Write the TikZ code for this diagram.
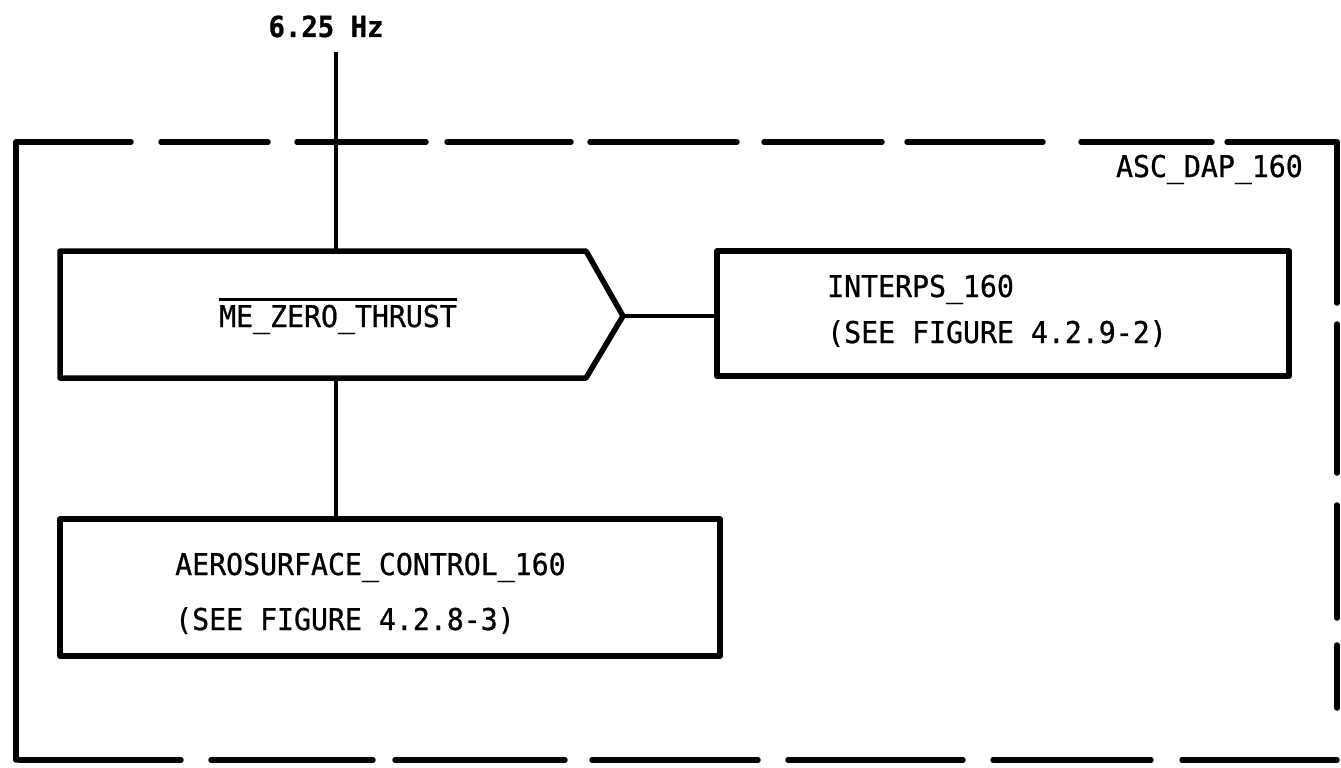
\documentclass[tikz,border=0pt]{standalone}
\usepackage{fontspec}
\newfontfamily\plotfont{DejaVu Sans Mono}[FakeStretch=0.94,FakeBold=0.8]
\newcommand\myovl[1]{\leavevmode\vbox{\hrule height 3pt\kern 3.5pt\hbox{#1}}}
\begin{document}
\begin{tikzpicture}[x=1pt,y=-1pt,
  box/.style={draw,line width=5.5pt,line join=round,inner sep=0pt},
  conn/.style={draw,line width=3.8pt},
  border/.style={line width=5.5pt,line cap=round,line join=round},
  lbl/.style={font=\plotfont\fontsize{30}{36}\selectfont,inner sep=0pt},
  hzlbl/.style={font=\plotfont\bfseries\fontsize{29}{36}\selectfont,inner sep=0pt},
]
\useasboundingbox (0,0) rectangle (1341,768);

% dashed frame of ASC_DAP_160
\draw[border] (16,760) -- (16,142) -- (131,142);
\draw[border,dash pattern=on 107pt off 29pt on 129pt off 21pt on 124pt off 19pt on 147pt off 27pt on 118pt off 25pt on 136pt off 38pt on 131pt off 17pt]
  (161,142) -- (1221,142);
\draw[border] (1227,142) -- (1337,142) -- (1337,303);
\draw[border,dash pattern=on 149pt off 32pt on 113pt off 27pt on 63pt off 100pt]
  (1337,324) -- (1337,760);
\draw[border,dash pattern=on 162pt off 30pt on 162pt off 22pt on 170pt off 27pt on 166pt off 30pt on 175pt off 30pt on 158pt off 31pt on 155pt off 5pt]
  (19,760) -- (1339,760);
\node[lbl,anchor=base east] (asc) at (1303,177) {ASC\_DAP\_160};

% frequency input
\node[hzlbl,anchor=base] (hz) at (326,37) {6.25 Hz};
\coordinate (hztop) at (336,52);

% ME_ZERO_THRUST decision shape
\coordinate (hexN) at (336,251);
\coordinate (hexS) at (336,378);
\coordinate (hexTip) at (623,316);
\draw[box] (60,251) -- (586,251) -- (hexTip) -- (586,378) -- (60,378) -- cycle;
\node[lbl,anchor=base] (mez) at (338,327) {\myovl{ME\_ZERO\_THRUST}};

% INTERPS_160 box
\node[box,minimum width=572pt,minimum height=125pt] (interps) at (1003,313.5) {};
\node[lbl,anchor=base west] (i1) at (827,297) {INTERPS\_160};
\node[lbl,anchor=base west] (i2) at (827,343) {(SEE FIGURE 4.2.9-2)};

% AEROSURFACE_CONTROL_160 box
\node[box,minimum width=660pt,minimum height=137pt] (aero) at (390,587.5) {};
\node[lbl,anchor=base west] (a1) at (175,575) {AEROSURFACE\_CONTROL\_160};
\node[lbl,anchor=base west] (a2) at (175,630) {(SEE FIGURE 4.2.8-3)};

% connectors
\draw[conn] (hztop) -- (hexN);
\draw[conn] (hexTip) -- (interps.west |- hexTip);
\draw[conn] (hexS) -- (hexS |- aero.north);
\end{tikzpicture}
\end{document}
